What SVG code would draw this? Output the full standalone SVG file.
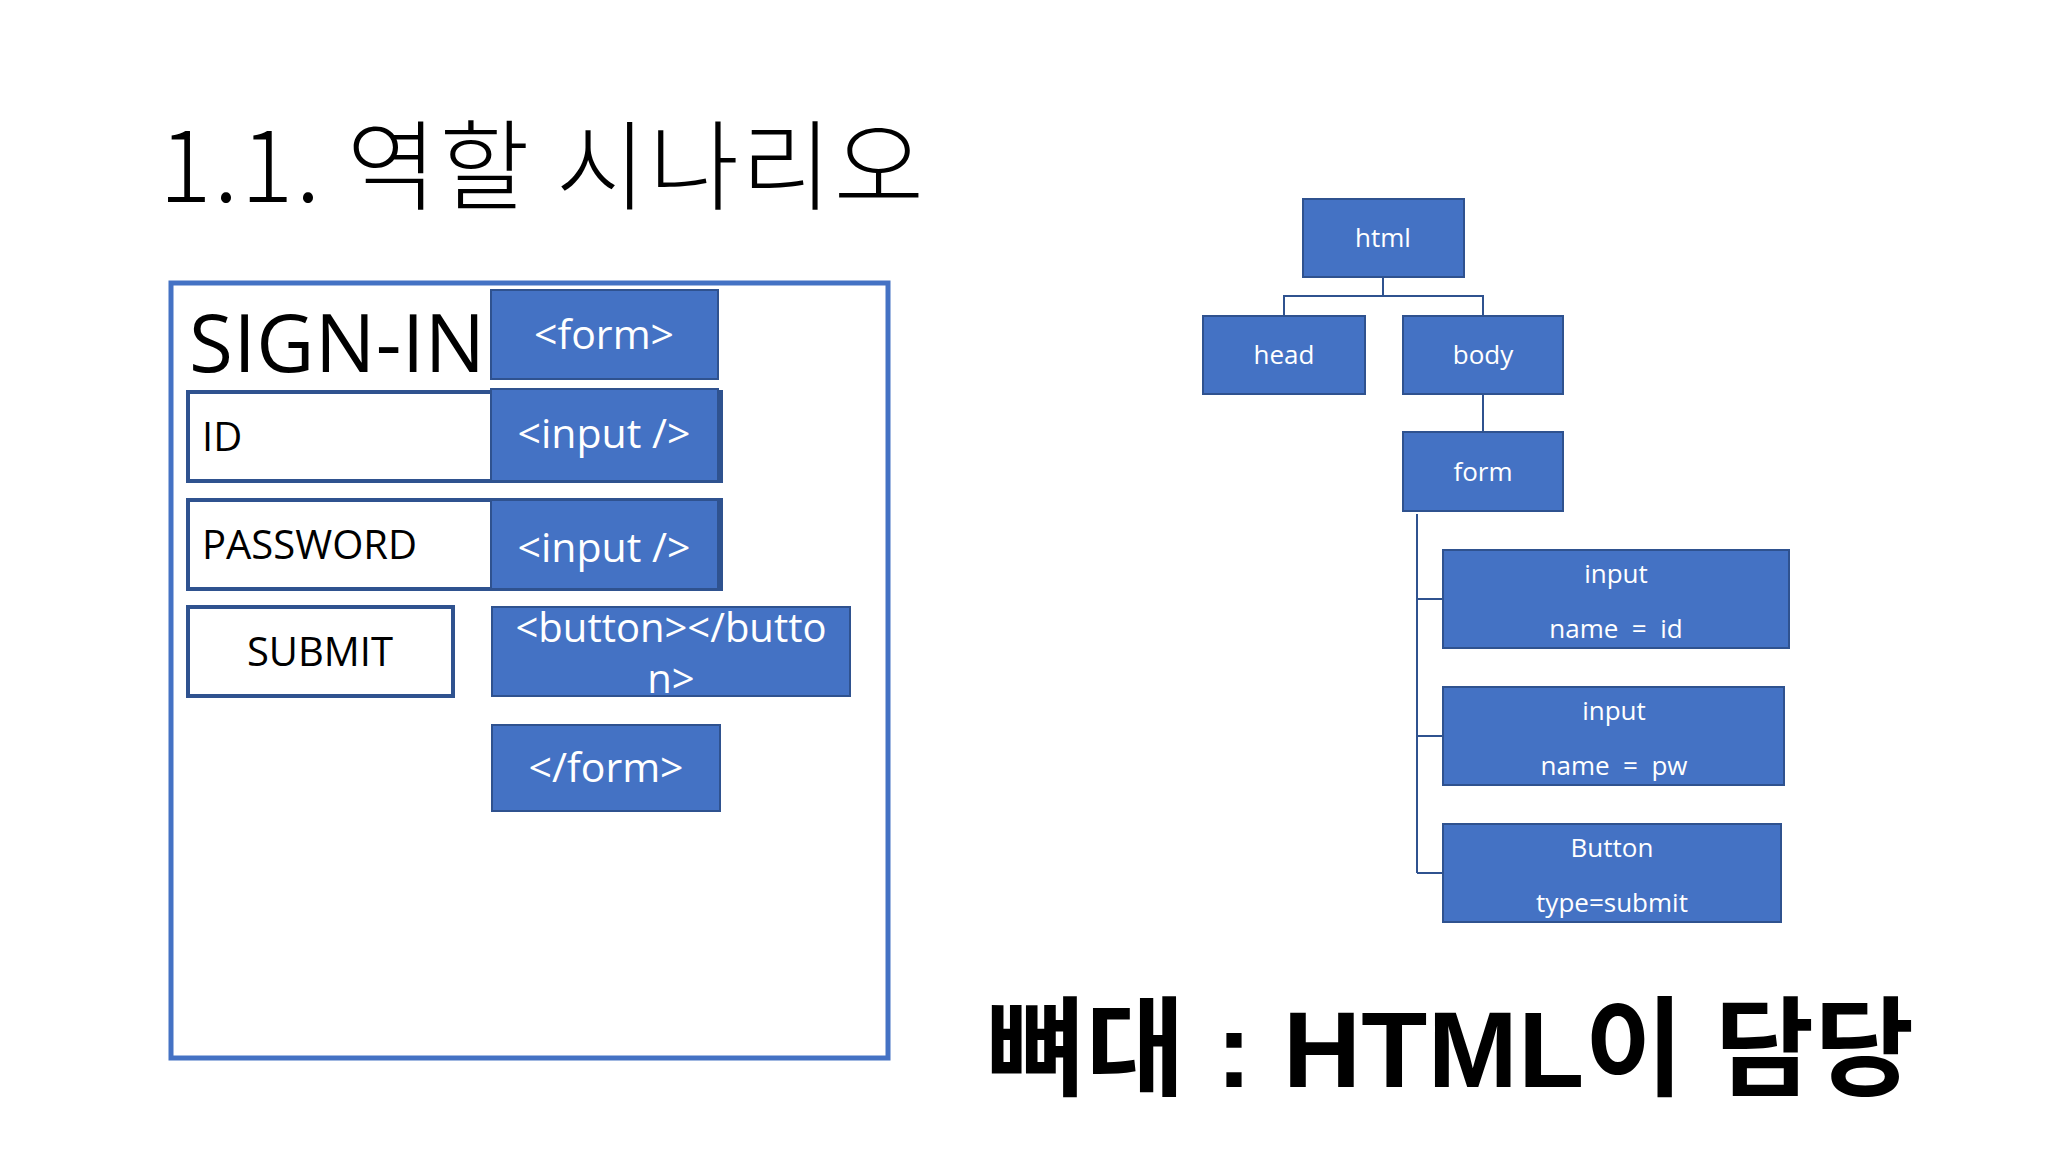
<svg xmlns="http://www.w3.org/2000/svg" width="2048" height="1152" viewBox="0 0 2048 1152">
<style>
.b{fill:#4472C4;stroke:#2F528F;stroke-width:2}
.w{fill:#fff;stroke:#2F528F;stroke-width:4}
.t{font-family:"Open Sans","Noto Sans",sans-serif;fill:#fff;text-anchor:middle}
.k{font-family:"Open Sans","Noto Sans",sans-serif;fill:#000}
.c{stroke:#2F528F;stroke-width:2;fill:none}
</style>
<rect width="2048" height="1152" fill="#fff"/>
<text x="159" y="202" font-size="98" textLength="765" font-family="'Noto Sans CJK KR',sans-serif" font-weight="300">1.1. 역할 시나리오</text>
<rect x="171" y="283" width="717" height="775" fill="none" stroke="#4472C4" stroke-width="5"/>
<g id="signin"><text class="k" x="189" y="372" font-size="80" textLength="296">SIGN-IN</text></g>
<g id="id"><rect class="w" x="188" y="392" width="533" height="89"/><text class="k" x="202" y="451" font-size="40">ID</text></g>
<g id="pw"><rect class="w" x="188" y="500" width="533" height="89"/><text class="k" x="202" y="559" font-size="40">PASSWORD</text></g>
<g id="submit"><rect class="w" x="188" y="607" width="265" height="89"/><text class="k" x="320" y="666" font-size="40" text-anchor="middle">SUBMIT</text></g>
<g id="form"><rect class="b" x="491" y="290" width="227" height="89"/><text class="t" x="604" y="349" font-size="41">&lt;form&gt;</text></g>
<g id="input1"><rect class="b" x="491" y="389" width="227" height="92"/><text class="t" x="604" y="448" font-size="41">&lt;input /&gt;</text></g>
<g id="input2"><rect class="b" x="491" y="500" width="227" height="89"/><text class="t" x="604" y="562" font-size="41">&lt;input /&gt;</text></g>
<g id="button"><rect class="b" x="492" y="607" width="358" height="89"/><text class="t" x="671" y="642" font-size="40">&lt;button&gt;&lt;/butto</text><text class="t" x="671" y="693" font-size="40">n&gt;</text></g>
<g id="endform"><rect class="b" x="492" y="725" width="228" height="86"/><text class="t" x="606" y="782" font-size="41">&lt;/form&gt;</text></g>
<g id="connectors">
<path class="c" d="M1383 277V296M1284 316V296H1483V316M1483 394V432M1417 514V873M1417 599H1443M1417 736H1443M1417 873H1443"/>
</g>
<g id="html"><rect class="b" x="1303" y="199" width="161" height="78"/><text class="t" x="1383" y="247" font-size="26">html</text></g>
<g id="head"><rect class="b" x="1203" y="316" width="162" height="78"/><text class="t" x="1284" y="364" font-size="26">head</text></g>
<g id="body"><rect class="b" x="1403" y="316" width="160" height="78"/><text class="t" x="1483" y="364" font-size="26">body</text></g>
<g id="tform"><rect class="b" x="1403" y="432" width="160" height="79"/><text class="t" x="1483" y="481" font-size="26">form</text></g>
<g id="tin1"><rect class="b" x="1443" y="550" width="346" height="98"/><text class="t" x="1616" y="583" font-size="26">input</text><text class="t" x="1616" y="638" font-size="26" xml:space="preserve">name  =  id</text></g>
<g id="tin2"><rect class="b" x="1443" y="687" width="341" height="98"/><text class="t" x="1614" y="720" font-size="26">input</text><text class="t" x="1614" y="775" font-size="26" xml:space="preserve">name  =  pw</text></g>
<g id="tbtn"><rect class="b" x="1443" y="824" width="338" height="98"/><text class="t" x="1612" y="857" font-size="26">Button</text><text class="t" x="1612" y="912" font-size="26">type=submit</text></g>
<text x="986" y="1087" font-size="108" textLength="928" font-weight="bold" font-family="'Liberation Sans','Noto Sans CJK KR',sans-serif">뼈대 : HTML이 담당</text>
</svg>
